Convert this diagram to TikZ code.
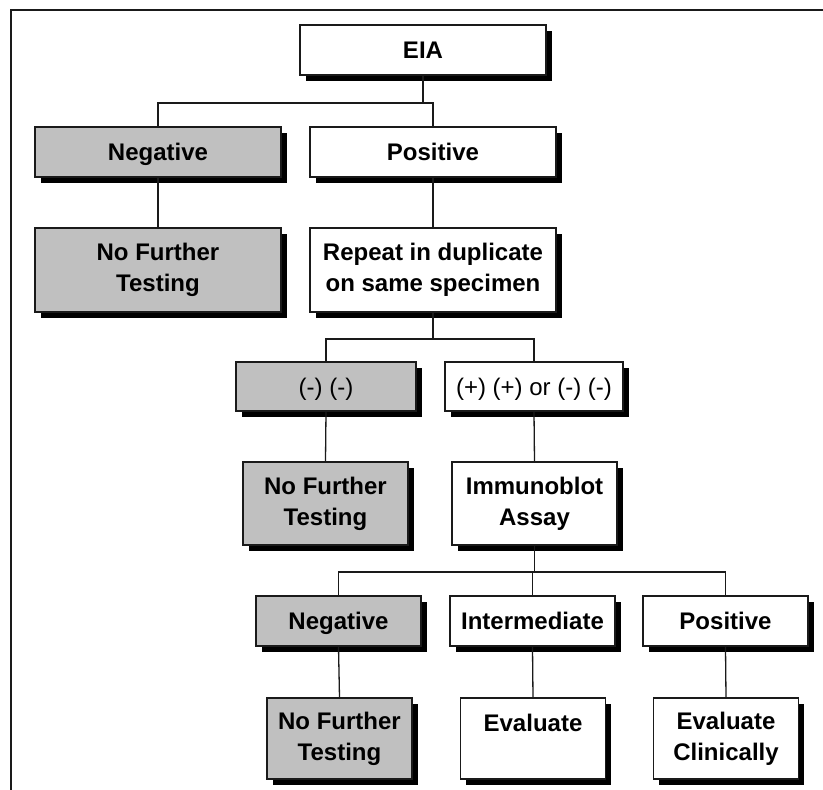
\documentclass[tikz,border=0pt]{standalone}
\usepackage{fontspec}
\setmainfont{Liberation Sans}
\usetikzlibrary{shadows}
\definecolor{boxgray}{HTML}{C0C0C0}
\definecolor{ink}{HTML}{1A1A1A}
\begin{document}
\begin{tikzpicture}[x=1pt,y=-1pt,
  box/.style={draw=ink, line width=1.4pt, fill=white, inner sep=0pt, align=center,
    font=\fontsize{24}{31}\selectfont\bfseries,
    drop shadow={shadow xshift=5.5pt, shadow yshift=-5.5pt, opacity=1, fill=black}},
  greybox/.style={box, fill=boxgray},
  plain/.style={font=\fontsize{24}{31}\selectfont},
  oneline/.style={text height=17.2pt, text depth=0pt},
  wide/.style={minimum width=246pt},
  mid/.style={minimum width=165pt},
  narrow/.style={minimum width=145pt},
  short/.style={minimum height=50pt, oneline},
  tall/.style={minimum height=83pt},
  link/.style={draw=ink, line width=1.3pt}]
\useasboundingbox (0,0) rectangle (823,790);
\fill[white] (0,0) rectangle (823,790);

% outer frame (open on the right and bottom)
\draw[line width=2pt, draw=ink] (11,790) -- (11,10) -- (823,10);

% first test
\node[box, wide, short] (eia) at (423,50) {EIA};
\node[greybox, wide, short] (neg1) at (158,152) {Negative};
\node[box, wide, short] (pos1) at (433,152) {Positive};
\node[greybox, wide, minimum height=84pt] (nft1) at (158,270) {No Further\\Testing};
\node[box, wide, minimum height=84pt] (rep) at (433,270) {Repeat in duplicate\\on same specimen};

% repeat results
\node[greybox, plain, oneline, minimum width=180pt, minimum height=49pt] (mm) at (326,386.5) {(-) (-)};
\node[box, plain, oneline, minimum width=178pt, minimum height=49pt] (pp) at (534,386.5) {(+) (+) or (-) (-)};
\node[greybox, mid, tall] (nft2) at (325.5,503.5) {No Further\\Testing};
\node[box, mid, tall] (ib) at (534.5,503.5) {Immunoblot\\Assay};

% immunoblot results
\node[greybox, mid, short] (neg3) at (338.5,621) {Negative};
\node[box, mid, short] (int3) at (532.5,621) {Intermediate};
\node[box, mid, short] (pos3) at (725.5,621) {Positive};
\node[greybox, narrow, minimum height=81pt] (nft3) at (339.5,738.5) {No Further\\Testing};
\node[box, narrow, minimum height=81pt] (ev) at (533,738.5) {Evaluate\\\mbox{}};
\node[box, narrow, minimum height=81pt] (evc) at (726,738.5) {Evaluate\\Clinically};

% branch levels
\coordinate (j1) at (0,103);
\coordinate (j2) at (0,339);
\coordinate (j3) at (0,572);

\draw[link] (eia.south) -- (eia.south |- j1) -| (neg1.north);
\draw[link] (eia.south |- j1) -| (pos1.north);
\draw[link] (neg1.south) -- (nft1.north);
\draw[link] (pos1.south) -- (rep.north);

\draw[link] (rep.south) -- (rep.south |- j2) -| (mm.north);
\draw[link] (rep.south |- j2) -| (pp.north);
\draw[link] (mm.south) -- (nft2.north);
\draw[link] (pp.south) -- (ib.north);

\draw[link] (ib.south) -- (ib.south |- j3) -| (neg3.north);
\draw[link] (ib.south |- j3) -| (pos3.north);
\draw[link] (int3.north) -- (int3.north |- j3);
\draw[link] (neg3.south) -- (nft3.north);
\draw[link] (int3.south) -- (ev.north);
\draw[link] (pos3.south) -- (evc.north);
\end{tikzpicture}
\end{document}
